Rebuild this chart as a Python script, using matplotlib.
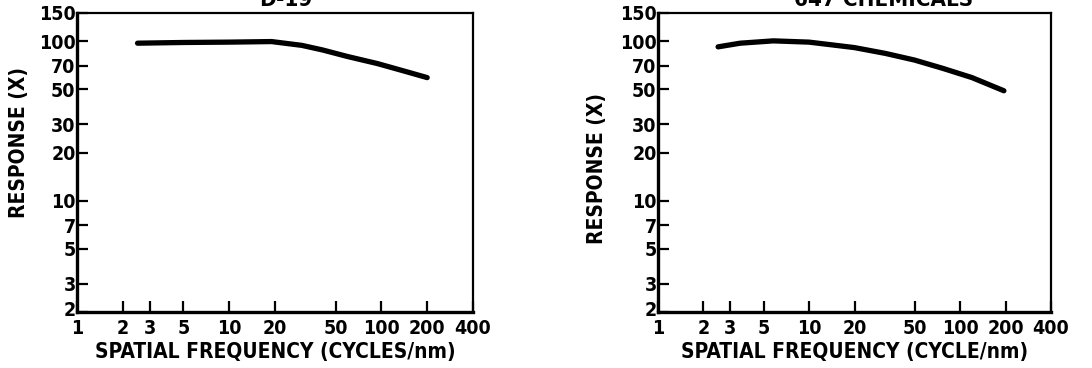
import numpy as np
import matplotlib
matplotlib.use("Agg")
import matplotlib.pyplot as plt
import matplotlib.transforms as mtransforms
from matplotlib.ticker import FixedLocator, FixedFormatter, NullLocator

plt.rcParams['font.family'] = ['DejaVu Sans']
plt.rcParams['font.weight'] = 'bold'
plt.rcParams['font.stretch'] = 'condensed'

# MTF curves
freq_left = [2.5, 5, 10, 19, 30, 41, 60, 94, 140, 200]
resp_left = [97, 98, 98.5, 99.3, 94, 88, 80, 72.3, 65, 59]

freq_right = [2.5, 3.5, 5.8, 10, 14.4, 20, 32, 50, 77, 120, 195]
resp_right = [92, 97, 100.3, 98.5, 94.5, 91, 83.7, 76, 67.4, 59, 48.8]

x_ticks = [1, 2, 3, 5, 10, 20, 50, 100, 200, 400]
y_ticks = [2, 3, 5, 7, 10, 20, 30, 50, 70, 100, 150]

titles = ["D-19", "647 CHEMICALS"]
xlabels = ["SPATIAL FREQUENCY (CYCLES/nm)", "SPATIAL FREQUENCY (CYCLE/nm)"]

W, H = 1092, 368
fig = plt.figure(figsize=(W / 100, H / 100), dpi=100)

# axes boxes in pixels: left, top, right, bottom
boxes = [(77, 13, 473, 312), (658, 13, 1051, 312)]
title_x = [286, 884]
ylabel_pos = [(29, 143), (607, 168)]

panels = [(freq_left, resp_left), (freq_right, resp_right)]

for i, ((x0, y0, x1, y1), (f, r)) in enumerate(zip(boxes, panels)):
    ax = fig.add_axes([x0 / W, 1 - y1 / H, (x1 - x0) / W, (y1 - y0) / H])
    ax.set_xscale('log')
    ax.set_yscale('log')
    ax.set_xlim(1, 400)
    ax.set_ylim(2, 150)
    ax.plot(f, r, color='black', lw=3.8, solid_capstyle='round')

    ax.xaxis.set_major_locator(FixedLocator(x_ticks))
    ax.xaxis.set_major_formatter(FixedFormatter([str(v) for v in x_ticks]))
    ax.yaxis.set_major_locator(FixedLocator(y_ticks))
    ax.yaxis.set_major_formatter(FixedFormatter([str(v) for v in y_ticks]))
    ax.xaxis.set_minor_locator(NullLocator())
    ax.yaxis.set_minor_locator(NullLocator())

    ax.tick_params(axis='both', direction='in', length=8, width=1.6,
                   labelsize=14, colors='black')
    ax.tick_params(axis='x', pad=5)
    ax.tick_params(axis='y', pad=1)
    for lab in ax.get_xticklabels() + ax.get_yticklabels():
        lab.set_fontweight('bold')

    # lift the lowest y label clear of the "1" in the corner
    lowest = ax.get_yticklabels()[0]
    lowest.set_transform(lowest.get_transform() +
                         mtransforms.ScaledTranslation(0, 4 / 100, fig.dpi_scale_trans))

    for side, sp in ax.spines.items():
        sp.set_linewidth(2.4 if side in ('left', 'bottom') else 1.6)

    ax.set_xlabel(xlabels[i], fontsize=15, fontweight='bold', labelpad=3)
    ax.set_ylabel("RESPONSE (X)", fontsize=15, fontweight='bold')
    lx, ly = ylabel_pos[i]
    ax.yaxis.set_label_coords((lx - x0) / (x1 - x0), (y1 - ly) / (y1 - y0))

    # title sits mostly above the top edge of the sheet
    fig.text(title_x[i] / W, 1 - 9.5 / H, titles[i], ha='center', va='bottom',
             fontsize=16, fontweight='bold')

fig.savefig("out.png", dpi=100)
